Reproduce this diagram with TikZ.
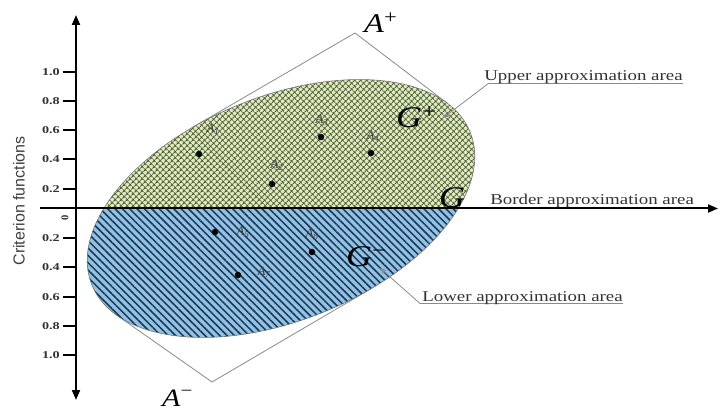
\documentclass[tikz,border=0pt]{standalone}
\usepackage{fontspec}
\setmainfont{Liberation Serif}
\setsansfont{Liberation Sans}
\usetikzlibrary{arrows.meta,patterns.meta}
\definecolor{upbg}{HTML}{DFEAC2}
\definecolor{uphatch}{HTML}{4E5E32}
\definecolor{lowbg}{HTML}{8FC2E4}
\definecolor{lowhatch}{HTML}{1E3450}
\definecolor{leadgray}{HTML}{8A8A8A}
\definecolor{txtgray}{HTML}{333333}
\tikzset{
  axisline/.style={line width=2pt, black},
  tickline/.style={line width=1.4pt, black},
  ticklab/.style={font=\fontsize{10.5}{10.5}\selectfont\bfseries, text=txtgray, anchor=east, xscale=1.35, inner sep=0pt},
  areatext/.style={font=\fontsize{15}{15}\selectfont, text=txtgray, anchor=base west, xscale=1.26, inner sep=0pt},
  bigA/.style={font=\fontsize{27}{27}\selectfont\itshape, anchor=base west, xscale=1.2, inner sep=0pt},
  bigG/.style={font=\fontsize{30}{30}\selectfont\itshape, anchor=base west, xscale=1.2, inner sep=0pt},
  ptlab/.style={font=\fontsize{13}{13}\selectfont\itshape, text=black!75, inner sep=0pt},
  dot/.style={circle, fill=black, inner sep=0pt, minimum size=6.5pt},
  tangline/.style={line width=0.8pt, leadgray},
  leader/.style={line width=0.8pt, leadgray},
  leadtip/.style={-{Triangle[length=6pt,width=4.5pt]}, line width=0.8pt, leadgray}
}
\begin{document}
\begin{tikzpicture}[x=1pt,y=1pt]
\useasboundingbox (0,0) rectangle (718,410);
\fill[white] (0,0) rectangle (718,410);

% apexes and tangent points
\coordinate (Ap) at (355,377);
\coordinate (Am) at (212,28);
\begin{scope}[shift={(281,201.5)}, rotate=22]
  \coordinate (tp1) at ({204*cos(18.14)},{112*sin(18.14)});
  \coordinate (tp2) at ({204*cos(104.66)},{112*sin(104.66)});
  \coordinate (tm1) at ({204*cos(285.09)},{112*sin(285.09)});
  \coordinate (tm2) at ({204*cos(199.59)},{112*sin(199.59)});
\end{scope}
\draw[tangline] (tp2) -- (Ap) -- (tp1);
\draw[tangline] (tm2) -- (Am) -- (tm1);

% ellipse areas
\begin{scope}
  \clip[rotate around={22:(281,201.5)}] (281,201.5) ellipse [x radius=204, y radius=112];
  \fill[upbg] (60,201.5) rectangle (500,400);
  \fill[pattern={Hatch[angle=45,distance=4pt,line width=1pt]}, pattern color=uphatch] (60,201.5) rectangle (500,400);
  \fill[lowbg] (60,0) rectangle (500,201.5);
  \fill[pattern={Lines[angle=-45,distance=5.2pt,line width=1.5pt]}, pattern color=lowhatch] (60,0) rectangle (500,201.5);
\end{scope}
\draw[line width=0.6pt, black!55, rotate around={22:(281,201.5)}] (281,201.5) ellipse [x radius=204, y radius=112];

% axes
\coordinate (hx0) at (40,201.5);
\coordinate (hx1) at (718,201.5);
\coordinate (vy0) at (76,10);
\coordinate (vy1) at (76,395);
\draw[axisline, -{Triangle[length=10pt,width=8pt]}] (hx0) -- (hx1);
\draw[axisline, {Triangle[length=10pt,width=8pt]}-{Triangle[length=10pt,width=8pt]}] (vy0) -- (vy1);

% ticks
\foreach \yy/\lab [count=\i] in {338/1.0,309/0.8,280/0.6,251/0.4,221/0.2,172/0.2,143/0.4,113/0.6,84/0.8,55/1.0}{
  \coordinate (tk\i) at (63,\yy);
  \coordinate (tke\i) at (76,\yy);
  \draw[tickline] (tk\i) -- (tke\i);
  \node[ticklab] (tl\i) at (60,\yy) {\lab};
}
\node[font=\fontsize{10.5}{10.5}\selectfont\bfseries, text=txtgray, rotate=90, inner sep=0pt] (zero) at (65,192) {0};

\node[font=\fontsize{16}{16}\selectfont\sffamily, text=black!75, rotate=90, inner sep=0pt] (ylab) at (19,209) {Criterion functions};

% data points
\node[dot] (p1) at (199,256) {};
\node[dot] (p2) at (272,226) {};
\node[dot] (p3) at (321,273) {};
\node[dot] (p4) at (371,257) {};
\node[dot] (p5) at (215,178) {};
\node[dot] (p6) at (312,158) {};
\node[dot] (p7) at (238,135) {};
\node[ptlab] (l1) at (213,281) {A\textsubscript{1}};
\node[ptlab] (l2) at (277,245) {A\textsubscript{2}};
\node[ptlab] (l3) at (322,290) {A\textsubscript{3}};
\node[ptlab] (l4) at (373,274) {A\textsubscript{4}};
\node[ptlab] (l5) at (243,178) {A\textsubscript{5}};
\node[ptlab] (l6) at (312,176) {A\textsubscript{6}};
\node[ptlab] (l7) at (264,138) {A\textsubscript{7}};

% big labels
\node[bigA] (lAp) at (364,377) {A\textsuperscript{\upshape +}};
\node[bigA, font=\fontsize{25}{25}\selectfont\itshape] (lAm) at (162,4) {A\textsuperscript{\upshape −}};
\node[bigG] (lGp) at (396,282) {G\textsuperscript{\upshape +}};
\node[bigG] (lGm) at (346,143) {G\textsuperscript{\upshape −}};
\node[bigG] (lG) at (439,202) {G};

% leaders and area texts
\coordinate (up1) at (489,327);
\coordinate (up2) at (683,327);
\coordinate (gpt) at (443,292);
\draw[leader] (up2) -- (up1);
\draw[leadtip] (up1) -- (gpt);
\node[areatext] (uptxt) at (484,329.5) {Upper approximation area};

\coordinate (lo1) at (420,106.5);
\coordinate (lo2) at (623,106.5);
\coordinate (gmt) at (380,142);
\draw[leader] (lo2) -- (lo1);
\draw[leadtip] (lo1) -- (gmt);
\node[areatext] (lotxt) at (422,108.5) {Lower approximation area};

\node[areatext] (bdtxt) at (490,205) {Border approximation area};
\end{tikzpicture}
\end{document}
